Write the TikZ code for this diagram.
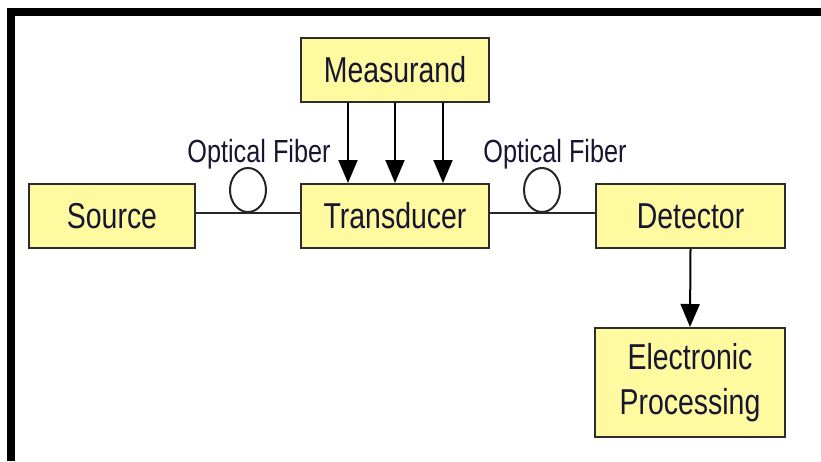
\documentclass[tikz,border=0pt]{standalone}
\usepackage{fontspec}
\setmainfont{Liberation Sans}[FakeStretch=0.79]
\usetikzlibrary{arrows.meta,shapes.geometric}
\definecolor{boxfill}{RGB}{255,249,160}
\definecolor{boxline}{RGB}{45,45,45}
\definecolor{txt}{RGB}{22,22,48}
\begin{document}
\begin{tikzpicture}[x=1pt,y=-1pt,
  blk/.style={draw=boxline, line width=2pt, fill=boxfill, text=txt, inner sep=0pt,
    font=\fontsize{36}{45}\selectfont, align=center},
  fib/.style={text=txt, font=\fontsize{32}{36}\selectfont, inner sep=0pt},
  loopc/.style={draw=black!85, line width=2pt, ellipse, inner sep=0pt, minimum width=36pt, minimum height=44pt},
  wire/.style={draw=black!85, line width=2pt},
  arr/.style={draw=black, line width=2pt, -{Triangle[length=23pt,width=19pt]}}]
\useasboundingbox (0,0) rectangle (821,461);
% frame
\draw[line width=8pt, miter limit=10] (11,461) -- (11,12) -- (821,12);
% blocks
\node[blk, minimum width=188pt, minimum height=64pt] (meas) at (395,70) {Measurand};
\node[blk, minimum width=188pt, minimum height=64pt] (trans) at (395,216) {Transducer};
\node[blk, minimum width=166pt, minimum height=64pt] (src) at (112,216) {Source};
\node[blk, minimum width=189pt, minimum height=64pt] (det) at (690.5,216) {Detector};
\node[blk, minimum width=190pt, minimum height=109pt] (ep) at (690,382.5) {Electronic\\Processing};
% fibers
\draw[wire] ([yshift=3pt]src.east) -- ([yshift=3pt]trans.west);
\draw[wire] ([yshift=3pt]trans.east) -- ([yshift=3pt]det.west);
\node[loopc] (loop1) at (248,190) {};
\node[loopc] (loop2) at (542,190) {};
\node[fib] (lab1) at (259,154) {Optical Fiber};
\node[fib] (lab2) at (555,154) {Optical Fiber};
% arrows
\draw[arr] ([xshift=-47pt]meas.south) -- ([xshift=-47pt]trans.north);
\draw[arr] (meas.south) -- (trans.north);
\draw[arr] ([xshift=48pt]meas.south) -- ([xshift=48pt]trans.north);
\draw[arr] (det.south) -- (ep.north);
\end{tikzpicture}
\end{document}
